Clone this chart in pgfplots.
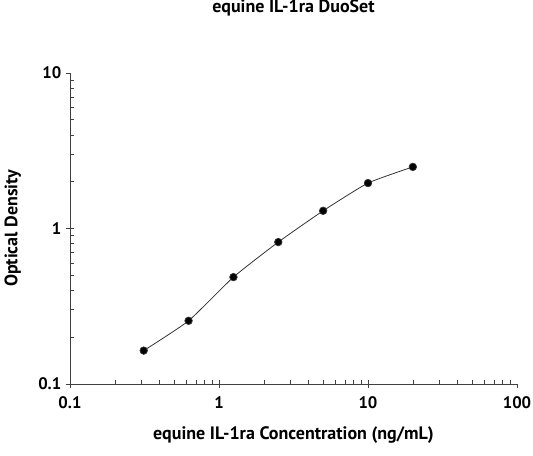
\documentclass[border=0pt]{standalone}
\usepackage{pgfplots}
\pgfplotsset{compat=1.18}
\usepackage{fontspec}
\setmainfont{PT Sans}
\begin{document}
\begin{tikzpicture}
% frame of the image: 1px = 0.75pt, axis lower left at origin
\useasboundingbox (-52.5pt,-53.25pt) rectangle (347.25pt,288pt);
\begin{loglogaxis}[
	at={(0pt,0pt)},
	anchor=south west,
	scale only axis,
	width=335.25pt,
	height=233.25pt,
	xmin=0.1, xmax=100,
	ymin=0.1, ymax=10,
	axis lines*=left,
	axis line style={black!75, line width=0.6pt},
	xtick={0.1,1,10,100},
	ytick={0.1,1,10},
	xticklabels={0.1,1,10,100},
	yticklabels={0.1,1,10},
	tick align=outside,
	major tick length=3pt,
	minor tick length=-3pt,
	tick style={black!75, line width=0.5pt},
	ticklabel style={font=\bfseries\fontsize{12.5}{14}\selectfont},
	xticklabel style={yshift=-3pt},
	/pgf/number format/assume math mode=true,
	title={\bfseries equine IL-1ra DuoSet},
	title style={font=\fontsize{13.5}{15}\selectfont, at={(axis description cs:0.5,1.185)}, anchor=center},
	xlabel={\bfseries equine IL-1ra Concentration (ng/mL)},
	ylabel={\bfseries Optical Density},
	label style={font=\fontsize{13.5}{15}\selectfont},
	xlabel style={at={(axis description cs:0.5,-0.164)}, anchor=center},
	ylabel style={at={(axis description cs:-0.128,0.5)}, anchor=center},
	clip=false,
]
\addplot[smooth, tension=0.3, black!80, line width=0.6pt, mark=*, mark size=2.8pt, mark options={fill=black}] coordinates {
	(0.3125,0.164)
	(0.625,0.255)
	(1.25,0.487)
	(2.5,0.818)
	(5,1.30)
	(10,1.96)
	(20,2.49)
};
\end{loglogaxis}
\end{tikzpicture}
\end{document}
